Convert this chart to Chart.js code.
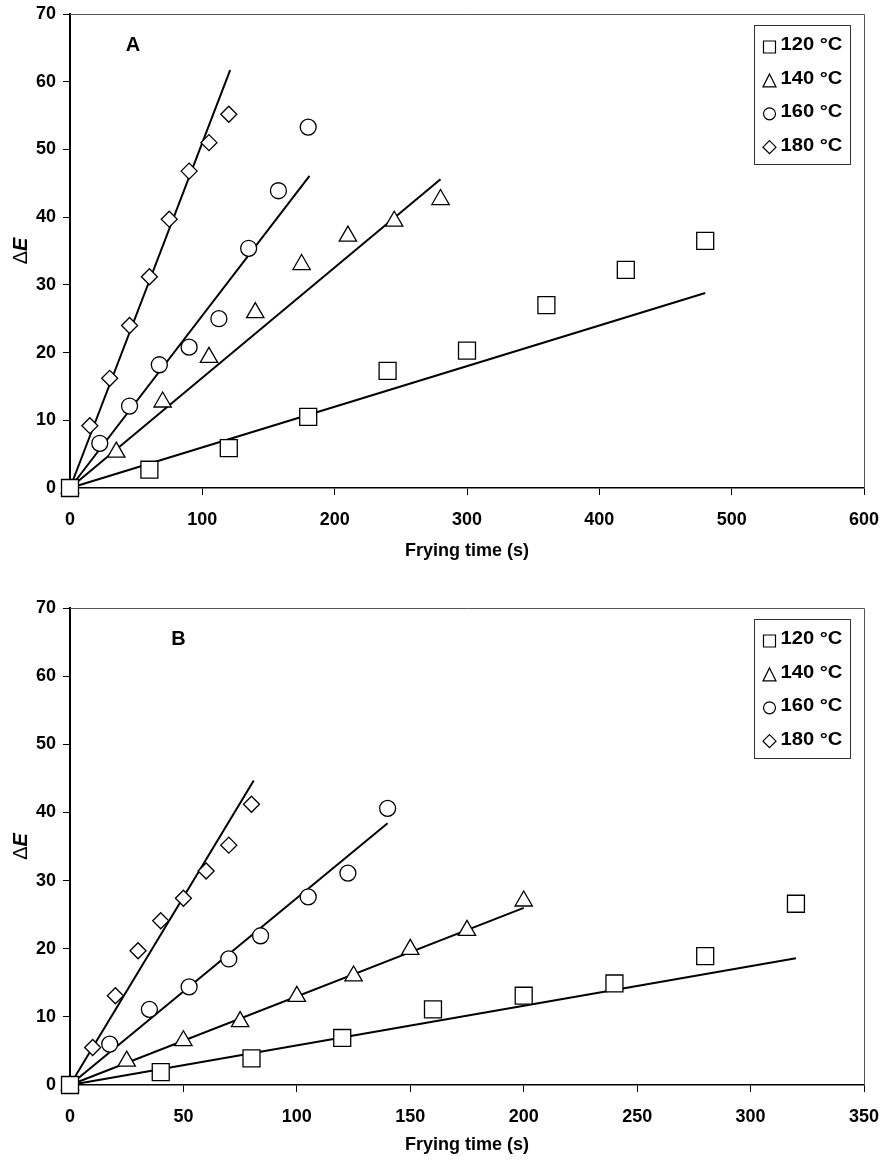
<!DOCTYPE html>
<html lang="en">
<head>
    <meta charset="UTF-8">
    <title>Delta E versus frying time</title>
    <script src="https://cdn.jsdelivr.net/npm/chart.js"></script>
    <style>
        body {
            margin: 0;
            background: #fff;
        }
        .panel {
            position: absolute;
            left: 0;
            width: 885px;
        }
        #panelA { top: 0; height: 580px; }
        #panelB { top: 580px; height: 582px; }
    </style>
</head>
<body>
    <div class="panel" id="panelA"><canvas id="chartA" width="885" height="580"></canvas></div>
    <div class="panel" id="panelB"><canvas id="chartB" width="885" height="582"></canvas></div>

    <script>
        const tempLabels = ['120 °C', '140 °C', '160 °C', '180 °C'];
        const markerStyles = ['rect', 'triangle', 'circle', 'rectRot'];
        const markerRadii = [12, 10, 8, 8];

        // Panel A: frying time (s) and colour change
        const timeA120 = [0, 60, 120, 180, 240, 300, 360, 420, 480];
        const dEA120 = [0, 2.7, 5.9, 10.5, 17.3, 20.3, 27.0, 32.2, 36.5];
        const timeA140 = [0, 35, 70, 105, 140, 175, 210, 245, 280];
        const dEA140 = [0, 5.3, 12.7, 19.3, 25.9, 33.0, 37.2, 39.4, 42.6];
        const timeA160 = [0, 22.5, 45, 67.5, 90, 112.5, 135, 157.5, 180];
        const dEA160 = [0, 6.6, 12.1, 18.2, 20.8, 25.0, 35.4, 43.9, 53.3];
        const timeA180 = [0, 15, 30, 45, 60, 75, 90, 105, 120];
        const dEA180 = [0, 9.2, 16.2, 24.0, 31.2, 39.7, 46.8, 51.0, 55.2];
        // fitted lines: start at origin, end points
        const fitEndTimeA = [480, 280, 181, 121];
        const fitEndDEA = [28.8, 45.6, 46.1, 61.7];

        // Panel B
        const timeB120 = [0, 40, 80, 120, 160, 200, 240, 280, 320];
        const dEB120 = [0, 1.9, 3.9, 6.9, 11.1, 13.1, 14.9, 18.9, 26.6];
        const timeB140 = [0, 25, 50, 75, 100, 125, 150, 175, 200];
        const dEB140 = [0, 3.5, 6.5, 9.3, 13.0, 16.0, 19.9, 22.7, 27.0];
        const timeB160 = [0, 17.5, 35, 52.5, 70, 84, 105, 122.5, 140];
        const dEB160 = [0, 6.0, 11.1, 14.4, 18.5, 21.9, 27.6, 31.1, 40.6];
        const timeB180 = [0, 10, 20, 30, 40, 50, 60, 70, 80];
        const dEB180 = [0, 5.5, 13.1, 19.7, 24.1, 27.4, 31.4, 35.2, 41.2];
        const fitEndTimeB = [320, 200, 140, 81];
        const fitEndDEB = [18.6, 26.0, 38.4, 44.7];

        const FONT = "'Liberation Sans', Arial, sans-serif";

        function toPoints(xs, ys) {
            return xs.map((x, i) => ({ x: x, y: ys[i] }));
        }

        function makeDatasets(times, values, fitT, fitV) {
            const scatter = times.map((t, i) => ({
                type: 'scatter',
                label: tempLabels[i],
                data: toPoints(t, values[i]),
                pointStyle: markerStyles[i],
                pointRadius: markerRadii[i],
                pointHoverRadius: markerRadii[i],
                pointBorderWidth: 1.3,
                borderColor: '#000',
                backgroundColor: '#fff',
                clip: false,
                order: 0
            }));
            const lines = fitT.map((t, i) => ({
                type: 'line',
                label: 'fit ' + tempLabels[i],
                data: toPoints([0, t], [0, fitV[i]]),
                borderColor: '#000',
                borderWidth: 2,
                pointRadius: 0,
                fill: false,
                clip: false,
                order: 1
            }));
            return scatter.concat(lines);
        }

        // draws a marker like the chart ones, used inside the legend box
        function drawMarker(ctx, style, x, y, s) {
            ctx.beginPath();
            if (style === 'rect') {
                ctx.rect(x - s / 2, y - s / 2, s, s);
            } else if (style === 'triangle') {
                ctx.moveTo(x, y - s / 2);
                ctx.lineTo(x + s / 2, y + s / 2);
                ctx.lineTo(x - s / 2, y + s / 2);
                ctx.closePath();
            } else if (style === 'circle') {
                ctx.arc(x, y, s / 2, 0, Math.PI * 2);
            } else {
                ctx.moveTo(x, y - s / 2);
                ctx.lineTo(x + s / 2, y);
                ctx.lineTo(x, y + s / 2);
                ctx.lineTo(x - s / 2, y);
                ctx.closePath();
            }
            ctx.fill();
            ctx.stroke();
        }

        const framePlugin = {
            id: 'frame',
            beforeDatasetsDraw(chart) {
                const { ctx, chartArea: a } = chart;
                ctx.save();
                ctx.strokeStyle = '#555';
                ctx.lineWidth = 1;
                ctx.beginPath();
                ctx.moveTo(a.left, a.top + 0.5);
                ctx.lineTo(a.right + 0.5, a.top + 0.5);
                ctx.lineTo(a.right + 0.5, a.bottom);
                ctx.stroke();
                ctx.restore();
            }
        };

        const decorPlugin = {
            id: 'decor',
            afterDraw(chart, args, opts) {
                const { ctx, chartArea: a } = chart;
                ctx.save();

                // panel letter
                ctx.fillStyle = '#000';
                ctx.font = 'bold 20px ' + FONT;
                ctx.textAlign = 'center';
                ctx.textBaseline = 'middle';
                ctx.fillText(opts.panel, a.left + opts.panelX, a.top + opts.panelY);

                // y axis title: Delta plain, E bold italic
                const cy = (a.top + a.bottom) / 2;
                ctx.translate(21, cy);
                ctx.rotate(-Math.PI / 2);
                ctx.font = '20px ' + FONT;
                const wD = ctx.measureText('Δ').width;
                ctx.font = 'italic bold 20px ' + FONT;
                const wE = ctx.measureText('E').width;
                let sx = -(wD + wE) / 2;
                ctx.textAlign = 'left';
                ctx.font = '20px ' + FONT;
                ctx.fillText('Δ', sx, 0);
                ctx.font = 'italic bold 20px ' + FONT;
                ctx.fillText('E', sx + wD, 0);
                ctx.setTransform(1, 0, 0, 1, 0, 0);

                // legend box inside the plot
                const bw = 96, bh = 139;
                const bx = Math.round(a.right - 14 - bw) + 0.5;
                const by = Math.round(a.top + 11) + 0.5;
                ctx.fillStyle = '#fff';
                ctx.fillRect(bx, by, bw, bh);
                ctx.strokeStyle = '#333';
                ctx.lineWidth = 1;
                ctx.strokeRect(bx, by, bw, bh);
                const markSize = [12, 13, 12, 13];
                tempLabels.forEach((label, i) => {
                    const ty = by + 20 + i * 33.4;
                    ctx.fillStyle = '#fff';
                    ctx.strokeStyle = '#000';
                    ctx.lineWidth = 1.2;
                    drawMarker(ctx, markerStyles[i], bx + 15, ty + 1.5, markSize[i]);
                    ctx.fillStyle = '#000';
                    ctx.font = 'bold 18px ' + FONT;
                    ctx.textAlign = 'left';
                    ctx.textBaseline = 'middle';
                    // the original legend text is a bit wider than the font
                    ctx.save();
                    ctx.translate(bx + 26, ty);
                    ctx.scale(1.12, 1);
                    ctx.fillText(label, 0, 0);
                    ctx.restore();
                });
                ctx.restore();
            }
        };

        function buildChart(canvasId, datasets, xMax, xStep, pad, xAxisHeight, titlePadBottom, decor) {
            const tickFont = { family: FONT, size: 18, weight: 'bold' };
            return new Chart(document.getElementById(canvasId), {
                type: 'scatter',
                data: { datasets: datasets },
                options: {
                    responsive: false,
                    animation: false,
                    layout: { padding: pad },
                    plugins: {
                        legend: { display: false },
                        tooltip: { enabled: false },
                        decor: decor
                    },
                    scales: {
                        x: {
                            type: 'linear',
                            min: 0,
                            max: xMax,
                            ticks: { stepSize: xStep, color: '#000', font: tickFont, padding: 14, maxRotation: 0 },
                            grid: { drawOnChartArea: false, drawTicks: true, tickLength: 7, color: '#000', lineWidth: 1 },
                            border: { color: '#000', width: 1.5 },
                            title: {
                                display: true,
                                text: 'Frying time (s)',
                                color: '#000',
                                font: { family: FONT, size: 18, weight: 'bold' },
                                padding: { top: 0, bottom: titlePadBottom }
                            },
                            afterFit(scale) {
                                scale.height = xAxisHeight;
                                scale.paddingLeft = 0;
                                scale.paddingRight = 0;
                            }
                        },
                        y: {
                            min: 0,
                            max: 70,
                            ticks: { stepSize: 10, color: '#000', font: tickFont, padding: 7 },
                            grid: { drawOnChartArea: false, drawTicks: true, tickLength: 7, color: '#000', lineWidth: 1 },
                            border: { color: '#000', width: 2 },
                            afterFit(scale) {
                                scale.width = 70;
                                scale.paddingTop = 0;
                                scale.paddingBottom = 0;
                            }
                        }
                    }
                },
                plugins: [framePlugin, decorPlugin]
            });
        }

        buildChart('chartA',
            makeDatasets([timeA120, timeA140, timeA160, timeA180], [dEA120, dEA140, dEA160, dEA180], fitEndTimeA, fitEndDEA),
            600, 100, { left: 0, right: 21, top: 14, bottom: 0 }, 92, 18,
            { panel: 'A', panelX: 63, panelY: 31 });

        buildChart('chartB',
            makeDatasets([timeB120, timeB140, timeB160, timeB180], [dEB120, dEB140, dEB160, dEB180], fitEndTimeB, fitEndDEB),
            350, 50, { left: 0, right: 21, top: 28, bottom: 0 }, 77, 6,
            { panel: 'B', panelX: 108.5, panelY: 31 });
    </script>
</body>
</html>
